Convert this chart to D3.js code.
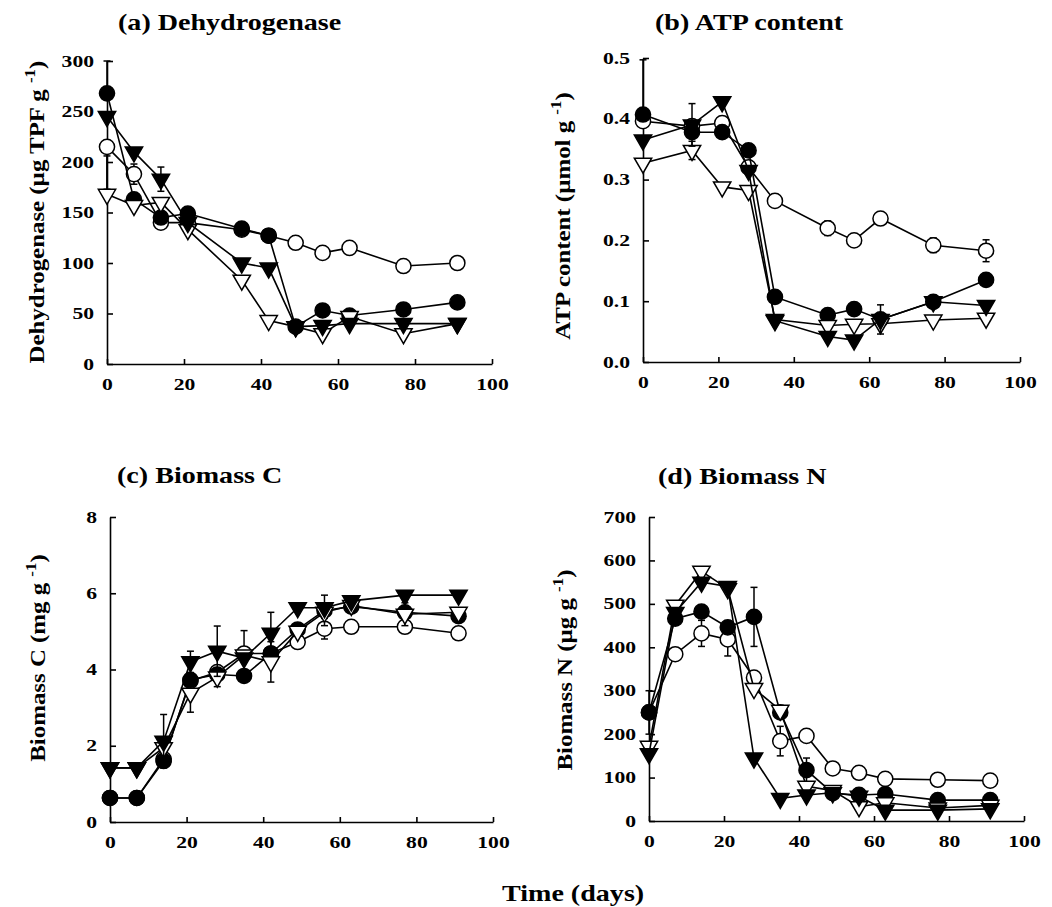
<!DOCTYPE html>
<html>
<head>
<meta charset="utf-8">
<script src="https://cdn.jsdelivr.net/npm/d3@7"></script>
<style>
  body { margin: 0; background: #fff; }
  text { font-family: "Liberation Serif", "Times New Roman", serif; font-weight: bold; fill: #000; }
</style>
</head>
<body>
<svg id="chart" width="1052" height="907"></svg>
<script>
// sampling days of each panel
var daysA = [0, 7, 14, 21, 35, 42, 49, 56, 63, 77, 91];
var daysB = [0, 13, 21, 28, 35, 49, 56, 63, 77, 91];
var daysC = [0, 7, 14, 21, 28, 35, 42, 49, 56, 63, 77, 91];
var daysD = [0, 7, 14, 21, 28, 35, 42, 49, 56, 63, 77, 91];

// (a) dehydrogenase, ug TPF g-1
var dehOpenCircle     = [215, 188, 140, 140, 133, 127, 120, 110, 115, 97, 100];
var dehFilledCircle   = [268, 163, 145, 149, 134, 127, 37, 53, 48, 54, 61];
var dehOpenTriangle   = [168, 157, 160, 133, 83, 43, 37, 30, 47, 30, 40];
var dehFilledTriangle = [245, 210, 183, 140, 100, 95, 37, 38, 40, 40, 40];

// (b) ATP content, umol g-1
var atpOpenCircle     = [0.396, 0.388, 0.393, 0.320, 0.265, 0.220, 0.200, 0.236, 0.192, 0.183];
var atpFilledCircle   = [0.407, 0.378, 0.378, 0.348, 0.107, 0.077, 0.087, 0.070, 0.099, 0.135];
var atpOpenTriangle   = [0.327, 0.348, 0.288, 0.282, 0.070, 0.060, 0.062, 0.063, 0.069, 0.072];
var atpFilledTriangle = [0.365, 0.390, 0.428, 0.315, 0.068, 0.042, 0.036, 0.070, 0.099, 0.093];

// (c) biomass C, mg g-1
var bcOpenCircle     = [0.63, 0.63, 1.65, 3.70, 3.93, 4.42, 4.42, 4.72, 5.07, 5.12, 5.12, 4.95];
var bcFilledCircle   = [0.63, 0.63, 1.60, 3.73, 3.87, 3.83, 4.42, 5.05, 5.55, 5.65, 5.50, 5.40];
var bcOpenTriangle   = [1.42, 1.42, 1.95, 3.38, 3.80, 4.38, 4.20, 5.00, 5.50, 5.68, 5.45, 5.50];
var bcFilledTriangle = [1.42, 1.42, 2.12, 4.20, 4.48, 4.30, 4.95, 5.62, 5.62, 5.80, 5.95, 5.95];

// (d) biomass N, ug g-1
var bnOpenCircle     = [250, 384, 432, 418, 330, 184, 196, 121, 111, 97, 95, 93];
var bnFilledCircle   = [250, 466, 482, 446, 470, 250, 117, 64, 60, 62, 48, 48];
var bnOpenTriangle   = [172, 497, 575, 535, 305, 255, 80, 70, 33, 42, 30, 36];
var bnFilledTriangle = [155, 480, 550, 540, 145, 52, 60, 65, 57, 25, 25, 28];

// error bars: [series, index of day, minus, plus]
var errA = [["filledCircle", 0, 0, 32], ["openTriangle", 0, 0, 38], ["openCircle", 0, 42, 0],
            ["openCircle", 1, 10, 10], ["filledTriangle", 2, 12, 12]];
var errB = [["filledCircle", 0, 0, 0.09], ["filledTriangle", 1, 0.035, 0.035], ["openTriangle", 1, 0.015, 0.015],
            ["openCircle", 5, 0.012, 0.012], ["openCircle", 8, 0.012, 0.012], ["openCircle", 9, 0.018, 0.018],
            ["filledTriangle", 7, 0.024, 0.024]];
var errC = [["filledTriangle", 2, 0.7, 0.7], ["filledTriangle", 3, 0.28, 0.28], ["openTriangle", 3, 0.5, 0.5],
            ["filledTriangle", 4, 0.66, 0.66], ["openTriangle", 4, 0.25, 0.25], ["openCircle", 5, 0.6, 0.6],
            ["filledTriangle", 6, 0.55, 0.55], ["openTriangle", 6, 0.53, 0.53], ["filledCircle", 8, 0.4, 0.4],
            ["openCircle", 8, 0.27, 0.27], ["openCircle", 9, 0.1, 0.1], ["openTriangle", 10, 0.3, 0.3]];
var errD = [["openCircle", 0, 50, 50], ["openCircle", 2, 30, 30], ["openCircle", 3, 38, 38],
            ["filledCircle", 4, 68, 68], ["openCircle", 5, 34, 34], ["filledCircle", 6, 28, 28]];

var xTicks = [0, 20, 40, 60, 80, 100];

var panels = [
  { title: "(a) Dehydrogenase", label: "Dehydrogenase (\u00b5g TPF g ", days: daysA,
    series: { openCircle: dehOpenCircle, filledCircle: dehFilledCircle, openTriangle: dehOpenTriangle, filledTriangle: dehFilledTriangle },
    err: errA, yDomain: [0, 300], yTicks: [0, 50, 100, 150, 200, 250, 300], fmt: d3.format("d"),
    left: 107, right: 492, top: 61, bottom: 364, titleX: 118, titleY: 30, labelX: 44, labelY: 212 },
  { title: "(b) ATP content", label: "ATP content (\u00b5mol g ", days: daysB,
    series: { openCircle: atpOpenCircle, filledCircle: atpFilledCircle, openTriangle: atpOpenTriangle, filledTriangle: atpFilledTriangle },
    err: errB, yDomain: [0, 0.5], yTicks: [0, 0.1, 0.2, 0.3, 0.4, 0.5], fmt: d3.format(".1f"),
    left: 643, right: 1020, top: 58, bottom: 362, titleX: 655, titleY: 30, labelX: 570, labelY: 216 },
  { title: "(c) Biomass C", label: "Biomass C (mg g ", days: daysC,
    series: { openCircle: bcOpenCircle, filledCircle: bcFilledCircle, openTriangle: bcOpenTriangle, filledTriangle: bcFilledTriangle },
    err: errC, yDomain: [0, 8], yTicks: [0, 2, 4, 6, 8], fmt: d3.format("d"),
    left: 110, right: 493, top: 517, bottom: 822, titleX: 117, titleY: 483, labelX: 45, labelY: 658 },
  { title: "(d) Biomass N", label: "Biomass N (\u00b5g g ", days: daysD,
    series: { openCircle: bnOpenCircle, filledCircle: bnFilledCircle, openTriangle: bnOpenTriangle, filledTriangle: bnFilledTriangle },
    err: errD, yDomain: [0, 700], yTicks: [0, 100, 200, 300, 400, 500, 600, 700], fmt: d3.format("d"),
    left: 649, right: 1024, top: 517, bottom: 821, titleX: 658, titleY: 484, labelX: 572, labelY: 670 }
];

// draw order, bottom first
var seriesKeys = ["openCircle", "filledCircle", "openTriangle", "filledTriangle"];
var symbolOf = {
  openCircle:     { type: d3.symbolCircle,   size: 180, fill: "#fff", rot: 0 },
  filledCircle:   { type: d3.symbolCircle,   size: 180, fill: "#000", rot: 0 },
  openTriangle:   { type: d3.symbolTriangle, size: 130, fill: "#fff", rot: 180 },
  filledTriangle: { type: d3.symbolTriangle, size: 130, fill: "#000", rot: 180 }
};

var svg = d3.select("#chart");
svg.append("rect").attr("width", 1052).attr("height", 907).attr("fill", "#fff");

panels.forEach(function (p) {
  var x = d3.scaleLinear().domain([0, 100]).range([p.left, p.right]);
  var y = d3.scaleLinear().domain(p.yDomain).range([p.bottom, p.top]);
  var g = svg.append("g");

  var gx = g.append("g").attr("transform", "translate(0," + p.bottom + ")")
    .call(d3.axisBottom(x).tickValues(xTicks).tickSizeInner(-5).tickSizeOuter(0).tickPadding(15));
  gx.selectAll("text").attr("transform", "scale(1.35,1)");

  var gy = g.append("g").attr("transform", "translate(" + p.left + ",0)")
    .call(d3.axisLeft(y).tickValues(p.yTicks).tickFormat(p.fmt).tickSizeInner(-6).tickSizeOuter(0));
  gy.selectAll("text").attr("x", 0).attr("transform", "translate(-13,0) scale(1.35,1)");

  g.selectAll(".domain, .tick line").attr("stroke", "#000").attr("stroke-width", 1.6);
  g.selectAll(".tick text").style("font-size", "16px");

  g.append("text").attr("transform", "translate(" + p.titleX + "," + p.titleY + ") scale(1.17,1)")
    .style("font-size", "24px").text(p.title);

  var lab = g.append("text")
    .attr("transform", "translate(" + p.labelX + "," + p.labelY + ") rotate(-90) scale(1.13,1)")
    .attr("text-anchor", "middle").style("font-size", "22px");
  lab.append("tspan").text(p.label);
  lab.append("tspan").attr("dy", -9).style("font-size", "15px").text("-1");
  lab.append("tspan").attr("dy", 9).text(")");

  var line = d3.line().x(function (d) { return x(d[0]); }).y(function (d) { return y(d[1]); });

  seriesKeys.forEach(function (k) {
    var vals = p.series[k];
    var pts = p.days.map(function (d, i) { return [d, vals[i]]; });
    g.append("path").datum(pts).attr("d", line)
      .attr("fill", "none").attr("stroke", "#000").attr("stroke-width", 1.6);

    // error bars sit under the markers
    p.err.filter(function (e) { return e[0] === k; }).forEach(function (e) {
      var cx = x(p.days[e[1]]), v = vals[e[1]];
      var ends = [];
      if (e[2] > 0) ends.push(y(Math.max(p.yDomain[0], v - e[2])));
      if (e[3] > 0) ends.push(y(v + e[3]));
      ends.forEach(function (yy) {
        g.append("line").attr("x1", cx).attr("x2", cx).attr("y1", y(v)).attr("y2", yy)
          .attr("stroke", "#000").attr("stroke-width", 1.5);
        g.append("line").attr("x1", cx - 3.5).attr("x2", cx + 3.5).attr("y1", yy).attr("y2", yy)
          .attr("stroke", "#000").attr("stroke-width", 1.5);
      });
    });

    var s = symbolOf[k];
    g.selectAll(null).data(pts).enter().append("path")
      .attr("d", d3.symbol().type(s.type).size(s.size))
      .attr("transform", function (d) { return "translate(" + x(d[0]) + "," + y(d[1]) + ") rotate(" + s.rot + ")"; })
      .attr("fill", s.fill).attr("stroke", "#000").attr("stroke-width", 1.5);
  });
});

svg.append("text").attr("transform", "translate(502,901) scale(1.17,1)")
  .style("font-size", "24px").text("Time (days)");
</script>
</body>
</html>
